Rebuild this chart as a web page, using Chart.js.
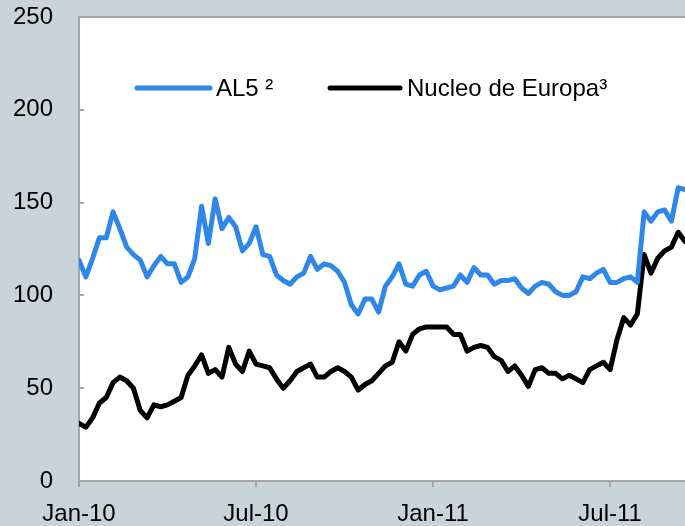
<!DOCTYPE html>
<html>
<head>
<meta charset="utf-8">
<script src="https://cdn.jsdelivr.net/npm/chart.js@4"></script>
<style>
  html, body { margin: 0; padding: 0; background: #C9D3DA; }
  canvas { display: block; }
</style>
</head>
<body>
<canvas id="chart" width="685" height="526"></canvas>
<script>
// weekly observations, Jan-10 .. mid Sep-11
const tickLabels = ["Jan-10", "Jul-10", "Jan-11", "Jul-11"];
const tickWeeks = [0, 26, 52, 78];

const al5 = [
  119, 110, 120, 131, 131, 145, 136, 126, 122, 119,
  110, 116, 121, 117, 117, 107, 110, 120, 148, 128,
  152, 136, 142, 137, 124, 128, 137, 122, 121, 111,
  108, 106, 110, 112, 121, 114, 117, 116, 113, 107,
  95, 90, 98, 98, 91, 105, 110, 117, 106, 105,
  111, 113, 105, 103, 104, 105, 111, 107, 115, 111,
  111, 106, 108, 108, 109, 104, 101, 105, 107, 106,
  102, 100, 100, 102, 110, 109, 112, 114, 107, 107,
  109, 110, 107, 145, 140, 145, 146, 140, 158, 157
];

const nucleo = [
  31, 29, 34, 42, 45, 53, 56, 54, 50, 38,
  34, 41, 40, 41, 43, 45, 57, 62, 68, 58,
  60, 56, 72, 63, 59, 70, 63, 62, 61, 55,
  50, 54, 59, 61, 63, 56, 56, 59, 61, 59,
  56, 49, 52, 54, 58, 62, 64, 75, 70, 79,
  82, 83, 83, 83, 83, 79, 79, 70, 72, 73,
  72, 67, 65, 59, 62, 57, 51, 60, 61, 58,
  58, 55, 57, 55, 53, 60, 62, 64, 60, 76,
  88, 84, 90, 122, 112, 120, 124, 126, 134, 129
];

const seriesNames = ["AL5 \u00B2", "Nucleo de Europa\u00B3"];

const AXIS_GREY = "#A6A6A6";
const FONT = "'Liberation Sans', Arial, sans-serif";

function toPoints(values) {
  return values.map((v, i) => ({ x: i, y: v }));
}

// white plot area, top frame line, inner y ticks, legend inside the plot
const plotFrame = {
  id: "plotFrame",
  beforeDraw(chart) {
    const { ctx, chartArea: a } = chart;
    ctx.save();
    ctx.fillStyle = "#FFFFFF";
    ctx.fillRect(a.left, a.top, a.right - a.left, a.bottom - a.top);
    ctx.restore();
  },
  afterDraw(chart) {
    const { ctx, chartArea: a } = chart;
    const y = chart.scales.y;
    ctx.save();
    ctx.strokeStyle = AXIS_GREY;
    ctx.lineWidth = 2;
    ctx.beginPath();
    ctx.moveTo(a.left, a.top);
    ctx.lineTo(a.right, a.top);
    ctx.stroke();

    y.ticks.forEach(t => {
      const py = Math.round(y.getPixelForValue(t.value));
      ctx.beginPath();
      ctx.moveTo(a.left, py);
      ctx.lineTo(a.left + 5, py);
      ctx.stroke();
    });

    // legend
    const legendY = a.top + 71;
    const items = [
      { x0: a.left + 58, x1: a.left + 131, tx: a.left + 137 },
      { x0: a.left + 251, x1: a.left + 321, tx: a.left + 328 }
    ];
    ctx.font = "24px " + FONT;
    ctx.textBaseline = "middle";
    ctx.fillStyle = "#000000";
    chart.data.datasets.forEach((ds, i) => {
      const it = items[i];
      ctx.strokeStyle = ds.borderColor;
      ctx.lineWidth = 5;
      ctx.lineCap = "round";
      ctx.beginPath();
      ctx.moveTo(it.x0, legendY);
      ctx.lineTo(it.x1, legendY);
      ctx.stroke();
      ctx.fillText(ds.label, it.tx, legendY + 1);
    });
    ctx.restore();
  }
};

new Chart(document.getElementById("chart"), {
  type: "line",
  data: {
    datasets: [
      {
        label: seriesNames[0],
        data: toPoints(al5),
        borderColor: "#2F87E9",
        borderWidth: 5
      },
      {
        label: seriesNames[1],
        data: toPoints(nucleo),
        borderColor: "#000000",
        borderWidth: 5
      }
    ]
  },
  options: {
    responsive: false,
    animation: false,
    layout: { padding: { top: 17, left: 13, right: 0, bottom: 0 } },
    elements: {
      point: { radius: 0 },
      line: { tension: 0, borderCapStyle: "round", borderJoinStyle: "round" }
    },
    plugins: {
      legend: { display: false },
      tooltip: { enabled: false }
    },
    scales: {
      x: {
        type: "linear",
        min: 0,
        max: al5.length - 1,
        afterBuildTicks(axis) {
          axis.ticks = tickWeeks.map(v => ({ value: v }));
        },
        afterFit(axis) {
          axis.height = 45;
          axis.paddingLeft = 0;
          axis.paddingRight = 0;
        },
        ticks: {
          autoSkip: false,
          maxRotation: 0,
          padding: 14,
          color: "#000000",
          font: { family: FONT, size: 24, lineHeight: 1.15 },
          callback: value => {
            const k = tickWeeks.indexOf(value);
            return k >= 0 ? tickLabels[k] : "";
          }
        },
        grid: {
          drawOnChartArea: false,
          drawTicks: true,
          tickLength: 6,
          color: AXIS_GREY,
          lineWidth: 2
        },
        border: { color: AXIS_GREY, width: 2 }
      },
      y: {
        min: 0,
        max: 250,
        afterFit(axis) {
          axis.width = 66;
          axis.paddingTop = 0;
          axis.paddingBottom = 0;
        },
        ticks: {
          stepSize: 50,
          padding: 26,
          color: "#000000",
          font: { family: FONT, size: 24 }
        },
        grid: { display: false, drawTicks: false },
        border: { color: AXIS_GREY, width: 2 }
      }
    }
  },
  plugins: [plotFrame]
});
</script>
</body>
</html>
